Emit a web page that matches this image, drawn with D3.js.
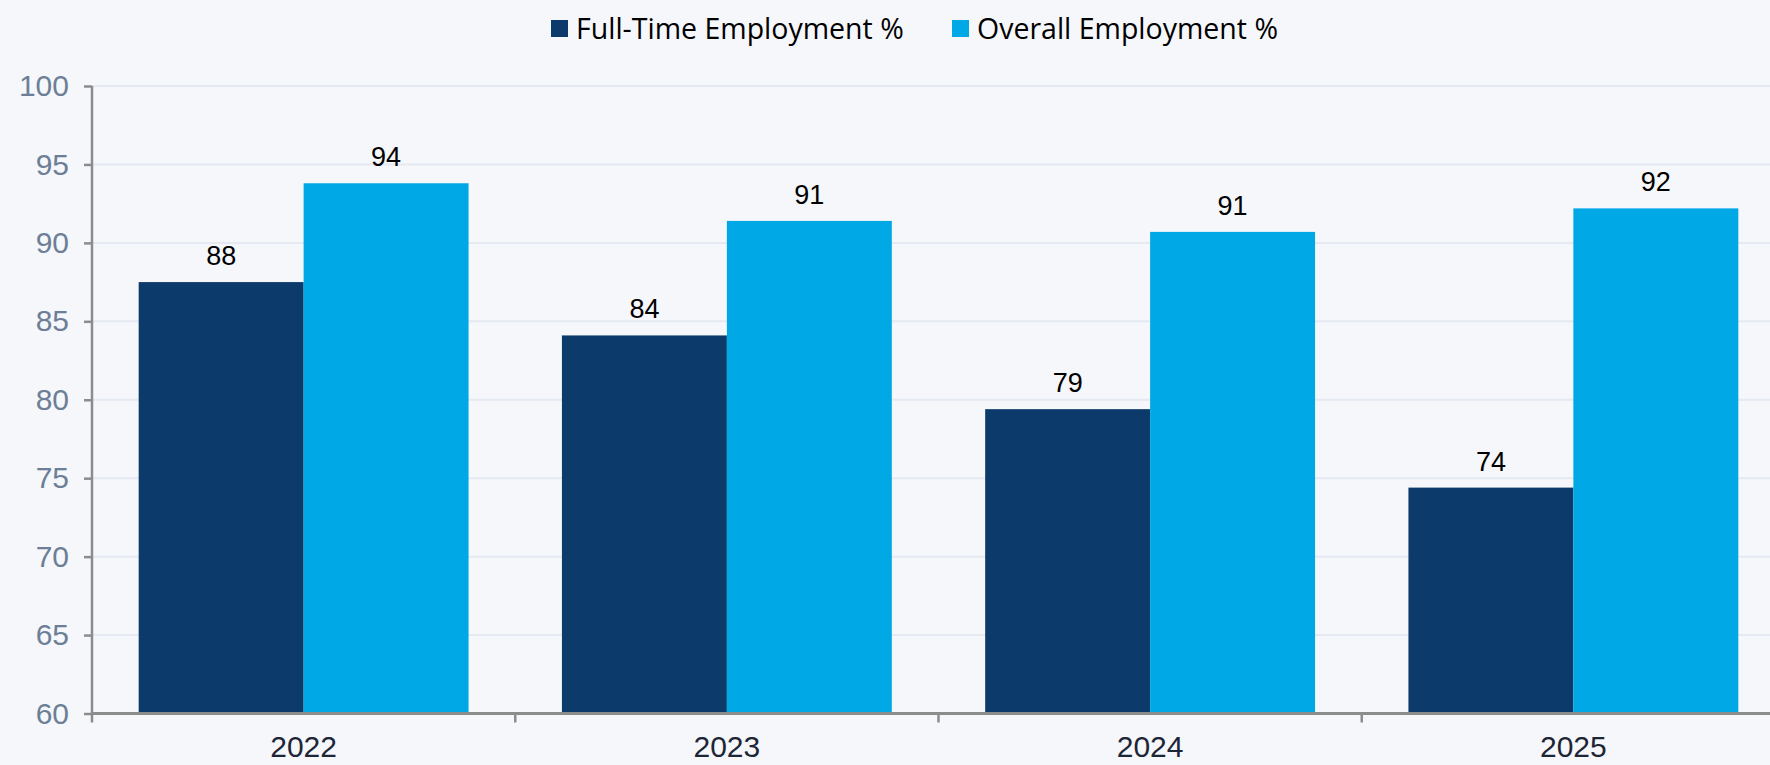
<!DOCTYPE html>
<html>
<head>
<meta charset="utf-8">
<script src="https://cdn.jsdelivr.net/npm/d3@7"></script>
<style>
  html, body { margin: 0; padding: 0; background: #f5f7fb; overflow: hidden; }
  svg { display: block; }
  .tick-y text { font-family: "Liberation Sans", Arial, sans-serif; font-size: 30px; fill: #6c7f96; }
  .x-label { font-family: "Liberation Sans", Arial, sans-serif; font-size: 30px; fill: #1d2636; }
  .value-label { font-family: "Liberation Sans", Arial, sans-serif; font-size: 27px; fill: #000; }
  .legend text { font-family: "Liberation Sans Narrow", "Open Sans", sans-serif; font-size: 28.5px; fill: #000; }
</style>
</head>
<body>
<svg id="chart"></svg>
<script>
const chartSize = { width: 1770, height: 765 };

const years = ["2022", "2023", "2024", "2025"];
const seriesNames = ["Full-Time Employment %", "Overall Employment %"];
const fullTime = [87.5, 84.1, 79.4, 74.4];
const overall = [93.8, 91.4, 90.7, 92.2];
const yTicks = [60, 65, 70, 75, 80, 85, 90, 95, 100];
const colors = ["#0b3a6b", "#00a8e6"];

const plot = { left: 92, right: 1785, top: 86, bottom: 713.5 };

const svg = d3
  .select("#chart")
  .attr("width", chartSize.width)
  .attr("height", chartSize.height);

const x0 = d3.scaleBand().domain(years).range([plot.left, plot.right]);
const x1 = d3
  .scaleBand()
  .domain(seriesNames)
  .range([0, x0.bandwidth()])
  .paddingInner(0)
  .paddingOuter(0.283);
const y = d3.scaleLinear().domain([60, 100]).range([plot.bottom, plot.top]);

// gridlines
svg
  .append("g")
  .selectAll("line")
  .data(yTicks.filter(t => t > 60))
  .join("line")
  .attr("x1", plot.left)
  .attr("x2", chartSize.width)
  .attr("y1", d => y(d))
  .attr("y2", d => y(d))
  .attr("stroke", "#e4e9f2")
  .attr("stroke-width", 2);

const rows = years.map((yr, i) => ({ year: yr, values: [fullTime[i], overall[i]] }));

const groups = svg
  .append("g")
  .selectAll("g")
  .data(rows)
  .join("g")
  .attr("transform", d => `translate(${x0(d.year)},0)`);

groups
  .selectAll("rect")
  .data(d => d.values.map((v, k) => ({ key: seriesNames[k], value: v, k })))
  .join("rect")
  .attr("x", d => x1(d.key))
  .attr("width", x1.bandwidth())
  .attr("y", d => y(d.value))
  .attr("height", d => plot.bottom - y(d.value))
  .attr("fill", d => colors[d.k]);

groups
  .selectAll("text")
  .data(d => d.values.map((v, k) => ({ key: seriesNames[k], value: v })))
  .join("text")
  .attr("class", "value-label")
  .attr("x", d => x1(d.key) + x1.bandwidth() / 2)
  .attr("y", d => y(d.value) - 17)
  .attr("text-anchor", "middle")
  .text(d => Math.round(d.value));

// y axis
const yAxis = d3.axisLeft(y).tickValues(yTicks).tickSize(8).tickPadding(15);
const gy = svg
  .append("g")
  .attr("class", "tick-y")
  .attr("transform", `translate(${plot.left},0)`)
  .call(yAxis);
gy.select(".domain").remove();
gy.selectAll(".tick line").attr("stroke", "#8c8c8c").attr("stroke-width", 2.5);
gy.append("line")
  .attr("x1", 0)
  .attr("x2", 0)
  .attr("y1", plot.top)
  .attr("y2", plot.bottom + 9)
  .attr("stroke", "#8c8c8c")
  .attr("stroke-width", 2.5);

// x axis
const gx = svg.append("g");
gx.append("line")
  .attr("x1", plot.left)
  .attr("x2", chartSize.width)
  .attr("y1", plot.bottom)
  .attr("y2", plot.bottom)
  .attr("stroke", "#8c8c8c")
  .attr("stroke-width", 3);
gx.selectAll(".sep")
  .data(years.slice(1))
  .join("line")
  .attr("class", "sep")
  .attr("x1", d => x0(d))
  .attr("x2", d => x0(d))
  .attr("y1", plot.bottom)
  .attr("y2", plot.bottom + 9)
  .attr("stroke", "#8c8c8c")
  .attr("stroke-width", 2.5);
gx.selectAll(".x-label")
  .data(years)
  .join("text")
  .attr("class", "x-label")
  .attr("x", d => x0(d) + x0.bandwidth() / 2)
  .attr("y", 757)
  .attr("text-anchor", "middle")
  .text(d => d);

// legend
const legendPos = [551, 952];
const legend = svg
  .append("g")
  .attr("class", "legend")
  .selectAll("g")
  .data(seriesNames)
  .join("g")
  .attr("transform", (d, i) => `translate(${legendPos[i]},0)`);
legend
  .append("rect")
  .attr("x", 0)
  .attr("y", 20)
  .attr("width", 17)
  .attr("height", 17)
  .attr("fill", (d, i) => colors[i]);
legend
  .append("text")
  .attr("x", 25)
  .attr("y", 39)
  .text(d => d);
</script>
</body>
</html>
